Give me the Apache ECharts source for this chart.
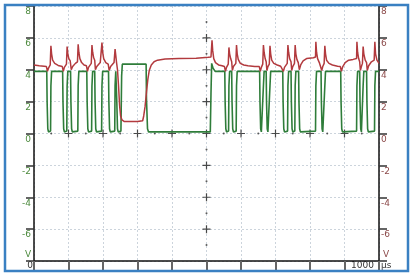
<!DOCTYPE html>
<html><head><meta charset="utf-8">
<script src="https://cdn.jsdelivr.net/npm/echarts@6/dist/echarts.min.js"></script>
<style>html,body{margin:0;padding:0;background:#fff}#c{width:415px;height:280px}</style>
</head><body><div id="c"></div>
<script>
// time axis (µs) and voltage axis (V)
const timeMin = 0, timeMax = 1000, timeStep = 100;
const voltMin = -8, voltMax = 8, voltStep = 2;

// Channel A (green) [µs, V]
const greenTrace = [
[0,3.9],[37,3.9],[38,2.0],[40,0.3],[42,0.1],[48,0.15],[49,3.0],[51,3.9],
[83,3.9],[84,2.0],[86,0.3],[88,0.1],[95,0.15],[96,3.0],[98,3.9],
[106,3.9],[107,2.0],[109,0.3],[111,0.1],[127,0.15],[128,3.0],[130,3.9],
[153,3.9],[154,2.0],[156,0.3],[158,0.1],[167,0.15],[168,3.0],[170,3.9],
[176,3.9],[177,2.0],[179,0.3],[181,0.1],[196,0.15],[197,3.0],[199,3.9],
[216,3.9],[217,2.0],[219,0.3],[221,0.1],[234,0.15],[235,3.0],[237,3.9],
[239,3.9],[240,2.0],[242,0.3],[244,0.1],[252,0.15],[254,3.6],[256,4.35],
[325,4.35],[326,2.2],[329,0.3],[332,0.1],[511,0.1],[513,2.5],[515,4.4],[519,4.1],[525,3.9],
[553,3.9],[554,2.0],[556,0.3],[558,0.1],[564,0.15],[565,3.0],[567,3.9],
[573,3.9],[574,2.0],[576,0.3],[578,0.1],[586,0.15],[587,3.0],[589,3.9],
[654,3.9],[655,2.0],[657,0.3],[659,0.1],[664,0.15],[665,3.0],[667,3.9],
[673,3.9],[674,2.0],[676,0.3],[678,0.1],[683,0.15],[684,3.0],[686,3.9],
[721,3.9],[722,2.0],[724,0.3],[726,0.1],[735,0.15],[736,3.0],[738,3.9],
[745,3.9],[746,2.0],[748,0.3],[750,0.1],[756,0.15],[757,3.0],[759,3.9],
[767,3.9],[768,2.0],[770,0.3],[772,0.1],[816,0.15],[817,3.0],[819,3.9],
[832,3.9],[833,2.0],[835,0.3],[837,0.1],[842,0.15],[843,3.0],[845,3.9],
[889,3.9],[890,2.0],[892,0.3],[894,0.1],[935,0.15],[936,3.0],[938,3.9],
[944,3.9],[945,2.0],[947,0.3],[949,0.1],[953,0.15],[954,3.0],[956,3.9],
[964,3.9],[965,2.0],[967,0.3],[969,0.1],[987,0.15],[988,3.0],[990,3.9],
[1000,3.9]
];

// Channel B (red) [µs, V]
const redTrace = [
[0,4.3],[15,4.25],[36,4.2],[39,3.9],[42,4.1],[47,4.3],[49,5.5],[51,5.0],[54,4.6],[60,4.4],[70,4.27],[82,4.2],
[85,3.9],[88,4.15],[94,4.35],[96,5.45],[98,5.0],[101,4.7],[105,4.55],
[108,4.0],[112,4.2],[120,4.4],[126,4.5],[128,5.6],[130,5.1],[133,4.7],[138,4.45],[145,4.3],[152,4.25],
[155,3.9],[158,4.15],[166,4.4],[168,5.55],[170,5.1],[173,4.75],[176,4.6],
[178,4.0],[182,4.2],[192,4.45],[197,5.7],[199,5.1],[202,4.7],[208,4.45],[215,4.35],
[218,3.95],[222,4.2],[232,4.45],[235,5.3],[237,4.9],[239,4.5],
[242,4.0],[245,3.0],[248,1.8],[251,1.1],[255,0.85],[262,0.75],[300,0.75],[315,0.8],
[318,1.1],[322,1.7],[326,2.6],[330,3.4],[334,3.95],[340,4.3],[348,4.5],[358,4.6],[380,4.67],[420,4.7],[470,4.72],[505,4.78],[513,4.8],
[516,5.85],[518,5.2],[521,4.7],[526,4.45],[535,4.3],[545,4.25],[552,4.2],
[555,3.9],[558,4.15],[563,4.35],[565,5.4],[567,5.0],[570,4.7],[573,4.5],
[575,3.95],[578,4.2],[585,4.4],[587,5.55],[589,5.0],[592,4.65],[598,4.4],[608,4.3],[620,4.25],[640,4.2],[653,4.2],
[656,3.9],[659,4.15],[663,4.35],[665,5.55],[667,5.1],[670,4.7],[673,4.5],
[675,3.95],[678,4.2],[682,4.35],[684,5.5],[686,5.0],[689,4.6],[695,4.4],[705,4.3],[715,4.22],[720,4.2],
[723,3.9],[726,4.15],[734,4.4],[736,5.55],[738,5.1],[741,4.7],[745,4.5],
[747,3.95],[750,4.2],[755,4.4],[757,5.55],[759,5.0],[762,4.65],[766,4.45],
[769,4.0],[773,4.3],[780,4.55],[790,4.7],[810,4.75],[816,4.8],[817,5.75],[819,5.1],[822,4.7],[827,4.45],[831,4.35],
[834,3.95],[837,4.2],[841,4.4],[843,5.5],[845,5.0],[848,4.6],[855,4.4],[865,4.3],[880,4.22],[888,4.2],
[891,3.9],[895,4.2],[902,4.45],[912,4.6],[925,4.65],[935,4.7],[936,5.75],[938,5.1],[941,4.7],[944,4.5],
[946,3.95],[949,4.2],[952,4.4],[954,5.45],[956,5.0],[960,4.6],[964,4.45],
[966,3.95],[970,4.25],[978,4.5],[986,4.6],[988,5.75],[990,5.0],[994,4.6],[1000,4.4]
];

// graticule markers on the centre lines
const crossVolts = [-6,-4,-2,0,2,4,6];
const crossTimes = [100,200,300,400,600,700,800,900];
const dotVolts = [-7,-5,-3,-1,1,3,5,7];
const dotTimes = [50,150,250,350,450,550,650,750,850,950];
const centreTime = 500, centreVolt = 0;

const crossData = crossVolts.map(v => [centreTime, v]).concat(crossTimes.map(t => [t, centreVolt]));
const dotData = dotVolts.map(v => [centreTime, v]).concat(dotTimes.map(t => [t, centreVolt]));

const FONT = 'DejaVu Sans';
const gridLine = {show:true, lineStyle:{color:'#ccd4dc', type:[2,2], width:1}};

const chart = echarts.init(document.getElementById('c'), null, {renderer:'canvas'});
chart.setOption({
  animation:false,
  backgroundColor:'#ffffff',
  grid:{left:34, right:36, top:6, bottom:19},
  xAxis:{type:'value', min:timeMin, max:timeMax, interval:timeStep,
    axisLine:{show:true, onZero:false, lineStyle:{color:'#111', width:1.5}},
    axisTick:{show:true, inside:false, length:9, lineStyle:{color:'#666', width:2}},
    axisLabel:{show:false}, splitLine:gridLine},
  yAxis:[
    {type:'value', min:voltMin, max:voltMax, interval:voltStep, position:'left',
     axisLine:{show:true, onZero:false, lineStyle:{color:'#111', width:1.5}},
     axisTick:{show:true, length:8, lineStyle:{color:'#333', width:1.5}},
     axisLabel:{color:'#4d8a3e', fontSize:9, fontFamily:FONT, verticalAlign:'top', lineHeight:12, margin:3,
       formatter:v => v === voltMin ? '' : String(v)},
     splitLine:gridLine},
    {type:'value', min:voltMin, max:voltMax, interval:voltStep, position:'right',
     axisLine:{show:true, onZero:false, lineStyle:{color:'#111', width:1.5}},
     axisTick:{show:true, length:8, lineStyle:{color:'#333', width:1.5}},
     axisLabel:{color:'#8c4a4a', fontSize:9, fontFamily:FONT, verticalAlign:'top', lineHeight:12, margin:2,
       formatter:v => v === voltMin ? '' : String(v)},
     splitLine:{show:false}}
  ],
  series:[
    {type:'scatter', data:crossData, symbol:'path://M4,0L4,8M0,4L8,4', symbolSize:8, silent:true, z:1,
     itemStyle:{color:'rgba(0,0,0,0)', borderColor:'#222', borderWidth:1.2}},
    {type:'scatter', data:dotData, symbol:'circle', symbolSize:2, silent:true, z:1,
     itemStyle:{color:'#333'}},
    {type:'line', data:greenTrace, showSymbol:false, z:3,
     lineStyle:{color:'#2f7d3a', width:1.6}},
    {type:'line', data:redTrace, showSymbol:false, z:4,
     lineStyle:{color:'#b23a3e', width:1.5}}
  ],
  graphic:[
    {type:'rect', shape:{x:5, y:5, width:403, height:266}, style:{fill:'none', stroke:'#3a80c2', lineWidth:2.5}, z:100},
    {type:'text', style:{text:'V', x:28, y:255, fill:'#4d8a3e', font:'9px "DejaVu Sans"', align:'center', verticalAlign:'middle'}},
    {type:'text', style:{text:'V', x:386, y:255, fill:'#8c4a4a', font:'9px "DejaVu Sans"', align:'center', verticalAlign:'middle'}},
    {type:'text', style:{text:'0', x:30, y:266, fill:'#333', font:'9px "DejaVu Sans"', align:'center', verticalAlign:'middle'}},
    {type:'text', style:{text:'1000', x:374, y:266, fill:'#333', font:'9px "DejaVu Sans"', align:'right', verticalAlign:'middle'}},
    {type:'text', style:{text:'µs', x:381, y:266, fill:'#333', font:'9px "DejaVu Sans"', align:'left', verticalAlign:'middle'}}
  ]
});
</script></body></html>
